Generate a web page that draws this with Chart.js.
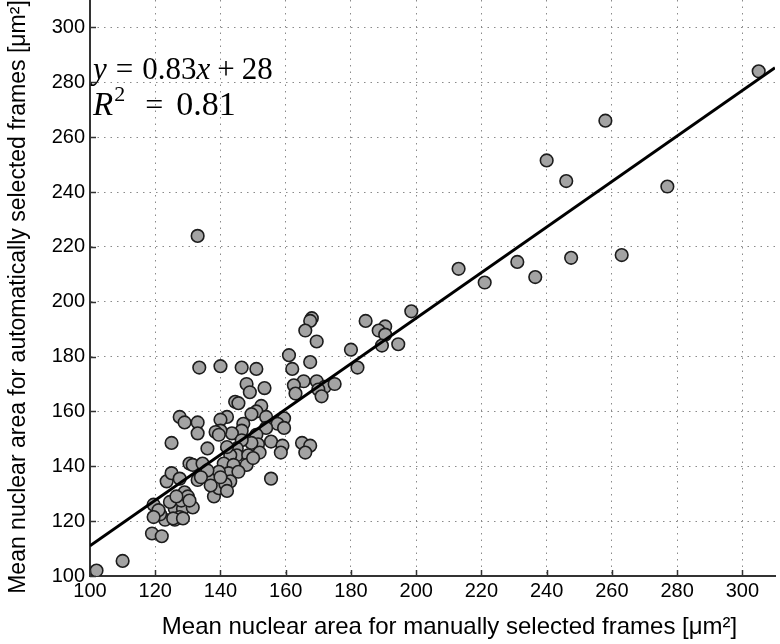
<!DOCTYPE html>
<html>
<head>
<meta charset="utf-8">
<script src="https://cdn.jsdelivr.net/npm/chart.js@4.4.1/dist/chart.umd.min.js"></script>
<style>
html,body{margin:0;padding:0;background:#fff;}
#wrap{position:relative;width:780px;height:644px;}
</style>
</head>
<body>
<div id="wrap"><canvas id="c" width="780" height="644"></canvas></div>
<script>
// Manually selected (x) mean nuclear area, µm²
const manualArea = [
305,258,240,246,277,133,
213,221,231,236.5,247.5,263,
198.5,184.5,190.5,188.5,190.5,189.5,194.5,180,182,
168,167.5,166,169.5,167.5,161,162,
165.5,169.5,172,175,162.5,163,170,171,
133.5,140,146.5,151,148,149,153.5,
144.5,145.5,152.5,151,149.5,154,142,140,159.5,157.5,159.5,154,147,146.5,143.5,151,140,138.5,139.5,
155.5,151.5,149.5,159,158.5,165,167.5,166,146.5,145,145,148.5,143,142,141,144,148,142.5,155.5,145.5,139.5,
127.5,129,133,133,125,136,
130.5,131.5,134.5,123.5,125,127.5,129,133,136.5,136,138,139.5,143,141.5,
134,137,140,142,152,150,
119.5,123,126,128.5,131.5,127.5,126,128,130,121.5,121,119,122,124.5,126.5,130.5,119.5,125.5,128.5,
102,110
];
// Automatically selected (y) mean nuclear area, µm²
const autoArea = [
284,266,251.5,244,242,224,
212,207,214.5,209,216,217,
196.5,193,191,189.5,188,184,184.5,182.5,176,
194,193,189.5,185.5,178,180.5,175.5,
171,171,169,170,169.5,166.5,168,165.5,
176,176.5,176,175.5,170,167,168.5,
163.5,163,162,160,159,158,158,157,157.5,155.5,154,154,155.5,153,152,151.5,153,152.5,151.5,
149,148,148.5,147.5,145,148.5,147.5,145,149.5,146.5,144,144,144,147,141,140.5,140.5,137.5,135.5,138,138,
158,156,156,152,148.5,146.5,
141,140.5,141,134.5,137.5,135.5,130.5,135,135.5,138.5,129,132,134.5,133.5,
136,133,136,131,145,143,
126,120.5,124.5,124.5,125,121.5,120.5,127.5,129,122.5,124,115.5,114.5,127,129,127.5,121.5,121,121,
102,105.5
];
// Least-squares fit line endpoints (y = 0.83x + 28)
const fitX = [100, 310];
const fitY = [111, 285.3];
const xTicks = [100,120,140,160,180,200,220,240,260,280,300];
const yTicks = [100,120,140,160,180,200,220,240,260,280,300];
const xTitle = 'Mean nuclear area for manually selected frames [\u03bcm\u00b2]';
const yTitle = 'Mean nuclear area for automatically selected frames [\u03bcm\u00b2]';

const scatterData = manualArea.map((x,i)=>({x:x,y:autoArea[i]}));
const fitData = fitX.map((x,i)=>({x:x,y:fitY[i]}));

const SERIF = '"Liberation Serif", "DejaVu Serif", serif';
const SANS = '"Liberation Sans", Arial, sans-serif';
function seg(ctx, t, italic, size, x, y){
  ctx.font = (italic?'italic ':'') + size + 'px ' + SERIF;
  ctx.fillText(t, x, y);
  return x + ctx.measureText(t).width;
}

const decor = {
  id:'decor',
  afterDatasetsDraw(chart){
    const ctx = chart.ctx, xs = chart.scales.x, ys = chart.scales.y, a = chart.chartArea;
    ctx.save();
    ctx.strokeStyle = '#333'; ctx.lineWidth = 1.5;
    xTicks.forEach(v=>{ const p = Math.round(xs.getPixelForValue(v))+0.5; ctx.beginPath(); ctx.moveTo(p,a.bottom); ctx.lineTo(p,a.bottom-6); ctx.stroke(); });
    yTicks.forEach(v=>{ const p = Math.round(ys.getPixelForValue(v))+0.5; ctx.beginPath(); ctx.moveTo(a.left,p); ctx.lineTo(a.left+6,p); ctx.stroke(); });
    // equation text
    ctx.fillStyle = '#000';
    ctx.textBaseline = 'alphabetic';
    const fs = 31, base1 = 79, base2 = 115;
    let x = a.left + 3;
    x = seg(ctx,'y',true,fs,x,base1) + 9;
    x = seg(ctx,'=',false,fs,x,base1) + 9;
    x = seg(ctx,'0.83',false,fs,x,base1);
    x = seg(ctx,'x',true,fs,x,base1) + 7;
    x = seg(ctx,'+',false,fs,x,base1) + 7;
    seg(ctx,'28',false,fs,x,base1);
    x = a.left + 3;
    x = seg(ctx,'R',true,33,x,base2) + 1;
    x = seg(ctx,'2',false,22,x,base2-14) + 20;
    x = seg(ctx,'=',false,32,x,base2) + 13;
    seg(ctx,'0.81',false,34,x,base2);
    // axis titles
    ctx.textAlign = 'center'; ctx.textBaseline = 'middle';
    ctx.font = '24px ' + SANS;
    ctx.fillText(xTitle, (a.left + a.right)/2 + 17, 627);
    ctx.save();
    ctx.translate(19, (a.top + a.bottom)/2 + 9);
    ctx.rotate(-Math.PI/2);
    ctx.font = '23px ' + SANS;
    ctx.fillText(yTitle, 0, 0);
    ctx.restore();
    ctx.restore();
  }
};

new Chart(document.getElementById('c'), {
  type:'scatter',
  data:{datasets:[
    {type:'line', data:fitData, borderColor:'#000', borderWidth:3, pointRadius:0, fill:false, tension:0},
    {type:'scatter', data:scatterData, backgroundColor:'#a3a3a3', borderColor:'#1c1c1c', borderWidth:1.6, pointRadius:6.3, pointHoverRadius:6.3}
  ]},
  options:{
    responsive:false, animation:false, devicePixelRatio:1,
    layout:{autoPadding:false, padding:{top:0,right:5,left:0,bottom:0}},
    plugins:{legend:{display:false}, tooltip:{enabled:false}},
    scales:{
      x:{type:'linear', min:100, max:310,
        afterBuildTicks(s){ s.ticks = xTicks.map(v=>({value:v})); },
        afterFit(s){ s.height = 68; s.paddingLeft = 0; s.paddingRight = 0; },
        ticks:{color:'#000', font:{family:SANS, size:20}, padding:3, maxRotation:0, autoSkip:false},
        grid:{color:'#8a8a8a', lineWidth:1, drawTicks:false},
        border:{display:true, color:'#333', width:2, dash:[1.5,5]},
        title:{display:false}
      },
      y:{type:'linear', min:100, max:310,
        afterBuildTicks(s){ s.ticks = yTicks.map(v=>({value:v})); },
        afterFit(s){ s.width = 90; s.paddingTop = 0; s.paddingBottom = 0; },
        ticks:{color:'#000', font:{family:SANS, size:20}, padding:5, autoSkip:false},
        grid:{color:'#8a8a8a', lineWidth:1, drawTicks:false},
        border:{display:true, color:'#333', width:2, dash:[1.5,5]},
        title:{display:false}
      }
    }
  },
  plugins:[decor]
});
</script>
</body>
</html>
